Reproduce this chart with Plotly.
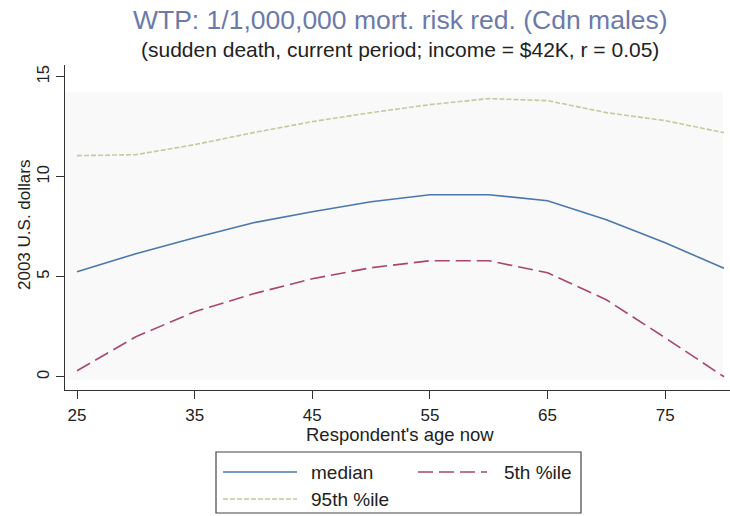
import plotly.graph_objects as go

# Willingness to pay for a 1-in-a-million mortality risk reduction, by age
ages = [25, 30, 35, 40, 45, 50, 55, 60, 65, 70, 75, 80]
median = [5.25, 6.15, 6.95, 7.7, 8.25, 8.75, 9.1, 9.1, 8.8, 7.85, 6.7, 5.42]
p5 = [0.3, 2.0, 3.25, 4.15, 4.9, 5.45, 5.8, 5.8, 5.2, 3.85, 1.95, 0.0]
p95 = [11.05, 11.1, 11.6, 12.2, 12.75, 13.2, 13.6, 13.9, 13.8, 13.2, 12.8, 12.2]

x_ticks = [25, 35, 45, 55, 65, 75]
y_ticks = [0, 5, 10, 15]

series_names = ["median", "5th %ile", "95th %ile"]
colors = ["#4a78ad", "#a8476a", "#c8c89c"]
dashes = ["solid", "15px,6px", "5px,2px"]

FONT = "Liberation Sans, Arial, sans-serif"
AXIS_COLOR = "#333333"
TEXT_COLOR = "#222222"

fig = go.Figure()
for name, vals, col, dash in zip(series_names, [median, p5, p95], colors, dashes):
    fig.add_trace(go.Scatter(
        x=ages, y=vals, name=name, mode="lines",
        line=dict(color=col, width=1.6, dash=dash),
        showlegend=False,
    ))


def px_x(p):
    # pixel column -> paper x (plot area spans 65..730)
    return (p - 65) / 665.0


def px_y(p):
    # pixel row -> paper y (plot area spans 65..390)
    return (390 - p) / 325.0


# Shaded plot region (inset from the axes)
shapes = [dict(type="rect", xref="paper", yref="paper",
               x0=0.0, x1=px_x(723), y0=px_y(380), y1=px_y(92),
               fillcolor="#f9f9f9", line=dict(width=0), layer="below")]

# Legend box drawn below the axis title
shapes.append(dict(type="rect", xref="paper", yref="paper",
                   x0=px_x(216), x1=px_x(581), y0=px_y(513), y1=px_y(452),
                   line=dict(color="#444444", width=1.2), fillcolor="white"))

legend_items = [
    (0, 223, 297, 309, 472),
    (1, 418, 487, 502, 472),
    (2, 223, 297, 309, 499),
]
annotations = []
for idx, sx0, sx1, tx, ty in legend_items:
    shapes.append(dict(type="line", xref="paper", yref="paper",
                       x0=px_x(sx0), x1=px_x(sx1), y0=px_y(ty), y1=px_y(ty),
                       line=dict(color=colors[idx], width=1.6, dash=dashes[idx])))
    annotations.append(dict(xref="paper", yref="paper", x=px_x(tx), y=px_y(ty),
                            text=series_names[idx], showarrow=False,
                            xanchor="left", yanchor="middle",
                            font=dict(family=FONT, size=19, color=TEXT_COLOR)))

annotations += [
    dict(xref="paper", yref="paper", x=px_x(400), y=px_y(20),
         text="WTP: 1/1,000,000 mort. risk red. (Cdn males)", showarrow=False,
         xanchor="center", yanchor="middle",
         font=dict(family=FONT, size=26.5, color="#6c7aab")),
    dict(xref="paper", yref="paper", x=px_x(400), y=px_y(49),
         text="(sudden death, current period; income = $42K, r = 0.05)", showarrow=False,
         xanchor="center", yanchor="middle",
         font=dict(family=FONT, size=21, color=TEXT_COLOR)),
    dict(xref="paper", yref="paper", x=px_x(400), y=px_y(434),
         text="Respondent's age now", showarrow=False,
         xanchor="center", yanchor="middle",
         font=dict(family=FONT, size=18.5, color=TEXT_COLOR)),
    dict(xref="paper", yref="paper", x=px_x(24), y=px_y(225),
         text="2003 U.S. dollars", showarrow=False, textangle=-90,
         xanchor="center", yanchor="middle",
         font=dict(family=FONT, size=17, color=TEXT_COLOR)),
]

fig.update_layout(
    width=730, height=516,
    margin=dict(l=65, r=0, t=65, b=126),
    paper_bgcolor="white", plot_bgcolor="white",
    shapes=shapes, annotations=annotations,
    showlegend=False,
)
fig.update_xaxes(
    range=[23.98, 80.51], tickvals=x_ticks, ticks="outside", ticklen=8,
    tickcolor=AXIS_COLOR, showline=True, linecolor=AXIS_COLOR, linewidth=1.3,
    showgrid=False, zeroline=False, ticklabelstandoff=1,
    tickfont=dict(family=FONT, size=17, color=TEXT_COLOR),
)
fig.update_yaxes(
    range=[-0.66, 15.58], tickvals=y_ticks, ticks="outside", ticklen=8,
    tickcolor=AXIS_COLOR, showline=True, linecolor=AXIS_COLOR, linewidth=1.3,
    showgrid=False, zeroline=False, tickangle=-90, ticklabelstandoff=0,
    tickfont=dict(family=FONT, size=16.5, color=TEXT_COLOR),
)

fig.write_html("out.html")
